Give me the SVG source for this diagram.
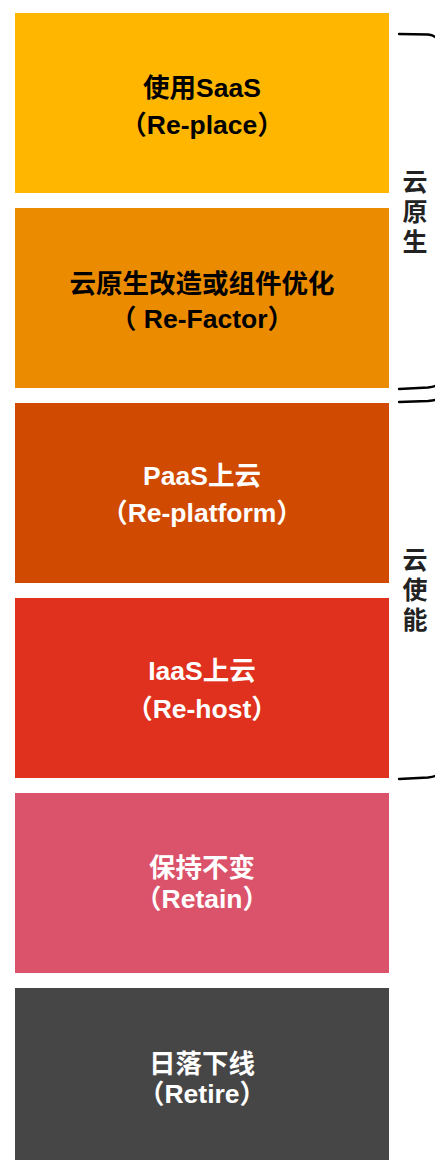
<svg xmlns="http://www.w3.org/2000/svg" width="435" height="1160" viewBox="0 0 435 1160">
<style>
.t{font-family:"Liberation Sans","Noto Sans CJK SC",sans-serif;font-weight:bold;font-size:26.5px;text-anchor:middle}
.dk{fill:#000}
.lt{fill:#fff}
.side{font-family:"Noto Sans CJK SC",sans-serif;font-weight:bold;font-size:25px;fill:#222;writing-mode:vertical-rl;letter-spacing:5px}
.br{fill:none;stroke:#000;stroke-width:2.4;stroke-linecap:round}
</style>
<rect width="435" height="1160" fill="#fff"/>
<g id="n1"><rect x="15" y="13" width="374" height="180" fill="#FFB600"/>
<text class="t dk" x="202" y="97">使用SaaS</text><text class="t dk" x="202" y="134">（Re-place）</text></g>
<g id="n2"><rect x="15" y="208" width="374" height="180" fill="#EB8C00"/>
<text class="t dk" x="202" y="293">云原生改造或组件优化</text><text class="t dk" x="202" y="328">（ Re-Factor）</text></g>
<g id="n3"><rect x="15" y="403" width="374" height="180" fill="#D04A02"/>
<text class="t lt" x="202" y="485">PaaS上云</text><text class="t lt" x="202" y="522">（Re-platform）</text></g>
<g id="n4"><rect x="15" y="598" width="374" height="180" fill="#E0301E"/>
<text class="t lt" x="202" y="680">IaaS上云</text><text class="t lt" x="202" y="718">（Re-host）</text></g>
<g id="n5"><rect x="15" y="793" width="374" height="180" fill="#DB536A"/>
<text class="t lt" x="202" y="877">保持不变</text><text class="t lt" x="202" y="908">（Retain）</text></g>
<g id="n6"><rect x="15" y="988" width="374" height="172" fill="#464646"/>
<text class="t lt" x="202" y="1073">日落下线</text><text class="t lt" x="202" y="1103">（Retire）</text></g>
<g id="g1"><text class="side" x="415" y="169">云原生</text></g>
<g id="g2"><text class="side" x="415" y="547">云使能</text></g>
<g id="connectors">
<path class="br" d="M399 34 L428 34.5 Q433 35 435 37"/>
<path class="br" d="M399 389 L428 387.5 Q433 387 435 386"/>
<path class="br" d="M399 402 L428 401 Q433 400.5 435 400"/>
<path class="br" d="M399 779 L428 777.5 Q433 777 435 776"/>
</g>
</svg>
